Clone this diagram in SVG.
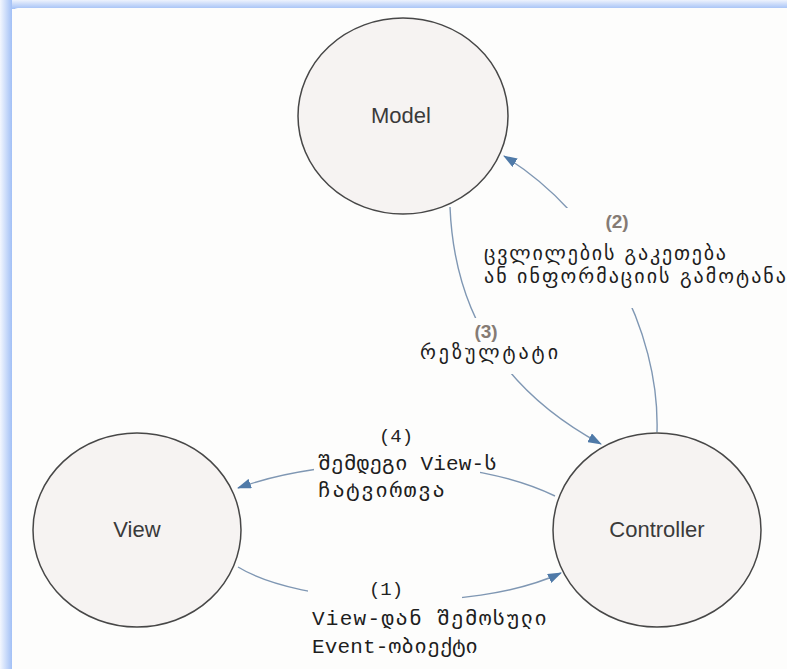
<svg xmlns="http://www.w3.org/2000/svg" width="787" height="669" viewBox="0 0 787 669">
  <defs>
    <linearGradient id="gTop" x1="0" y1="0" x2="0" y2="1">
      <stop offset="0" stop-color="#eef3fd"/>
      <stop offset="1" stop-color="#a2c0f6"/>
    </linearGradient>
    <linearGradient id="gLeft" x1="0" y1="0" x2="1" y2="0">
      <stop offset="0" stop-color="#f3f7fe"/>
      <stop offset="1" stop-color="#a2c0f6"/>
    </linearGradient>
    <marker id="arrow" viewBox="0 0 14 10" refX="13" refY="5" markerWidth="14" markerHeight="10" markerUnits="userSpaceOnUse" orient="auto">
      <path d="M0,0 L14,5 L0,10 z" fill="#4f7aa8"/>
    </marker>
    <style>
      .node { fill: #f6f3f2; stroke: #474747; stroke-width: 1.5; }
      .nlabel { font-family: "Liberation Sans", Arial, sans-serif; font-size: 22px; fill: #3a3a3a; text-anchor: middle; }
      .conn { fill: none; stroke: #7f97b3; stroke-width: 1.4; marker-end: url(#arrow); }
      .lbox { fill: #fdfdfc; }
      .num { font-family: "Liberation Sans", Arial, sans-serif; font-size: 19px; font-weight: bold; fill: #857b74; text-anchor: middle; }
      .numser { font-family: "Liberation Mono", "Courier New", monospace; font-size: 19px; fill: #222; text-anchor: middle; }
      .geo { font-family: "DejaVu Sans", "Noto Sans", sans-serif; font-size: 20px; fill: #1e1e1e; }
      .geom { font-family: "Liberation Mono", "DejaVu Sans Mono", "DejaVu Sans", monospace; font-size: 21px; fill: #1e1e1e; }
    </style>
  </defs>

  <rect x="0" y="0" width="787" height="669" fill="#fdfdfc"/>
  <g id="frame">
    <rect x="0" y="0" width="787" height="9" fill="url(#gTop)"/>
    <rect x="0" y="0" width="12" height="669" fill="url(#gLeft)"/>
    <rect x="12" y="8" width="800" height="700" rx="6" fill="#fdfdfc"/>
  </g>

  <g id="connectors">
    <path id="c2" class="conn" d="M657,432 C660,330 600,215 504,156"/>
    <path id="c3" class="conn" d="M450,207 C455,330 520,400 601,444"/>
    <path id="c4" class="conn" d="M555,496 C470,455 330,455 238,488"/>
    <path id="c1" class="conn" d="M238,567 C300,605 470,615 561,573"/>
  </g>

  <g id="model">
    <ellipse class="node" cx="403" cy="116" rx="105" ry="98"/>
    <text class="nlabel" x="401" y="123">Model</text>
  </g>
  <g id="view">
    <ellipse class="node" cx="137" cy="530" rx="104" ry="97"/>
    <text class="nlabel" x="137" y="537">View</text>
  </g>
  <g id="controller">
    <ellipse class="node" cx="657" cy="530" rx="104" ry="97"/>
    <text class="nlabel" x="657" y="537">Controller</text>
  </g>

  <g id="label2">
    <rect class="lbox" x="480" y="208" width="307" height="100"/>
    <text class="num" x="617" y="228">(2)</text>
    <text class="geo" x="484" y="260" textLength="242" lengthAdjust="spacing">ცვლილების გაკეთება</text>
    <text class="geo" x="484" y="283" textLength="302" lengthAdjust="spacing">ან ინფორმაციის გამოტანა</text>
  </g>
  <g id="label3">
    <rect class="lbox" x="416" y="318" width="146" height="56"/>
    <text class="num" x="486" y="338">(3)</text>
    <text class="geo" x="420" y="359" textLength="138" lengthAdjust="spacing">რეზულტატი</text>
  </g>
  <g id="label4">
    <rect class="lbox" x="314" y="424" width="166" height="80"/>
    <text class="numser" x="396" y="442">(4)</text>
    <text class="geom" x="318" y="470" textLength="179" lengthAdjust="spacing">შემდეგი View-ს</text>
    <text class="geom" x="318" y="497" textLength="127" lengthAdjust="spacing">ჩატვირთვა</text>
  </g>
  <g id="label1">
    <rect class="lbox" x="308" y="578" width="154" height="84"/>
    <text class="numser" x="386" y="595">(1)</text>
    <text class="geom" x="312" y="625" textLength="235" lengthAdjust="spacing">View-დან შემოსული</text>
    <text class="geom" x="312" y="653" textLength="166" lengthAdjust="spacing">Event-ობიექტი</text>
  </g>
</svg>
